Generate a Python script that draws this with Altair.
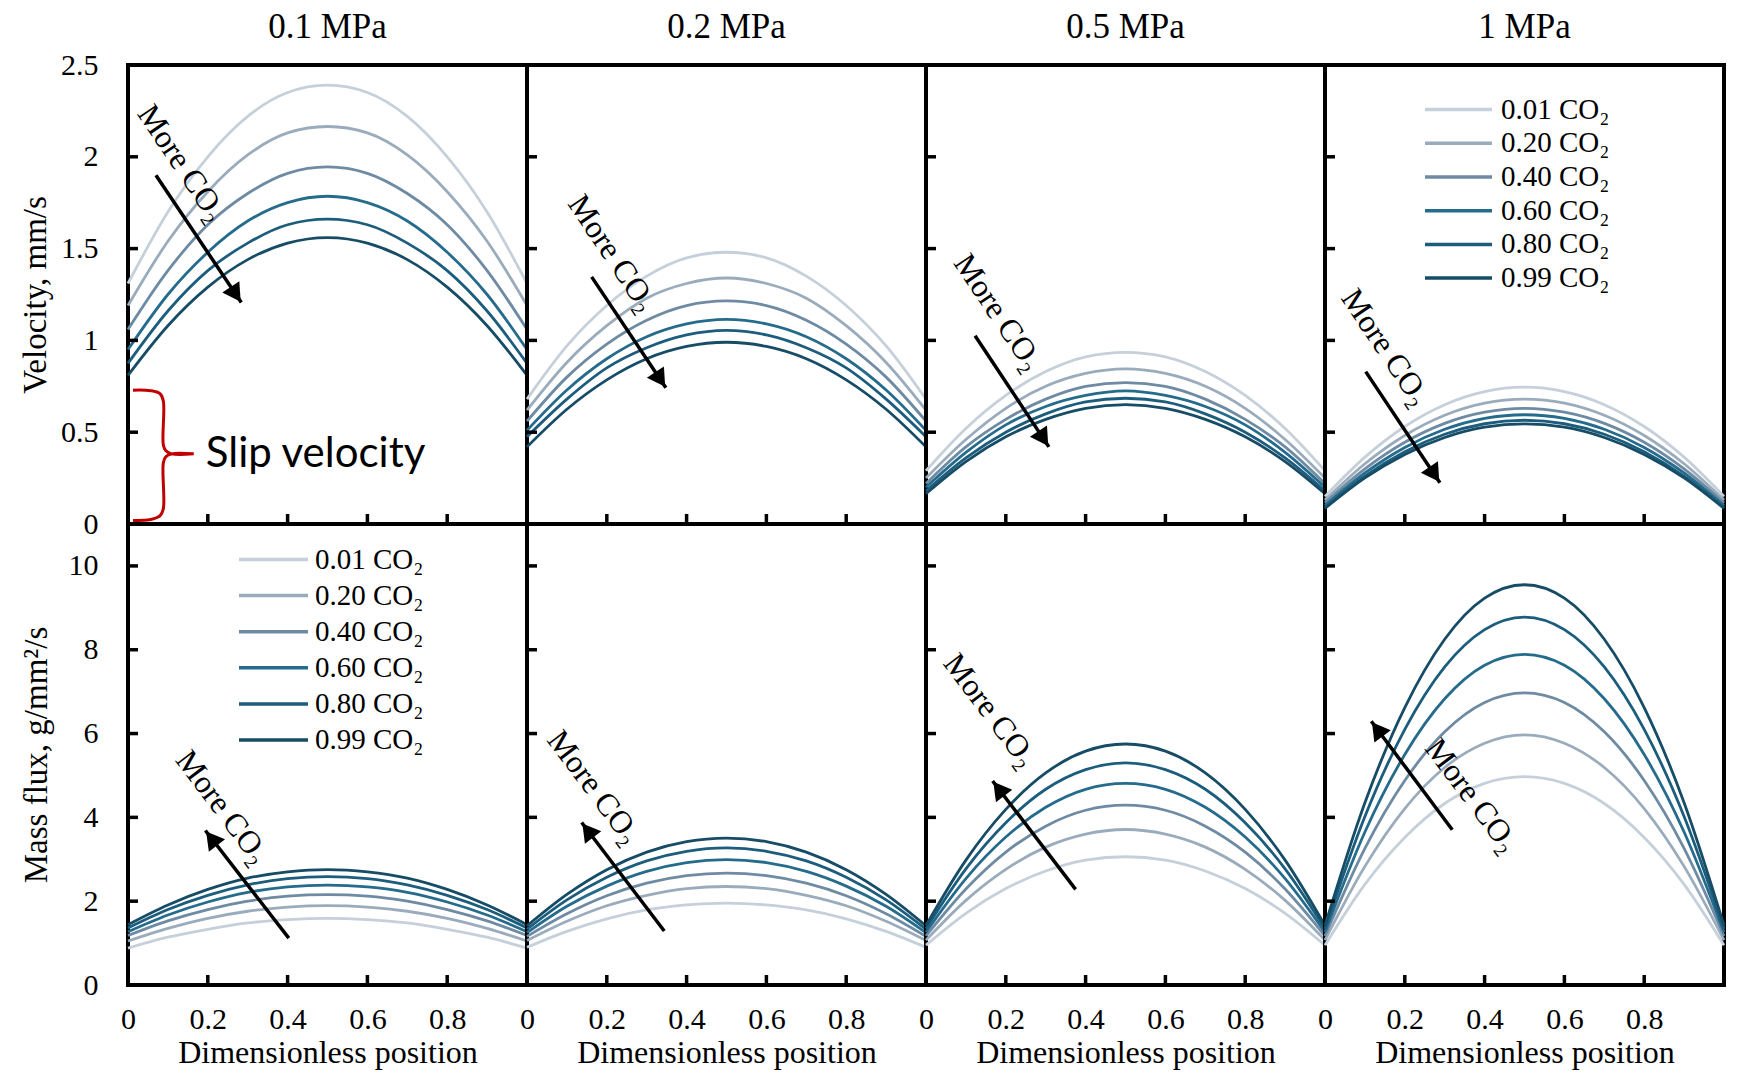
import math
import altair as alt
import pandas as pd

# ---------------- data ----------------
positions = [0.0, 0.1, 0.2, 0.3, 0.4, 0.5, 0.6, 0.7, 0.8, 0.9, 1.0]
pressures = ["0.1 MPa", "0.2 MPa", "0.5 MPa", "1 MPa"]
series = ["0.01 CO₂", "0.20 CO₂", "0.40 CO₂", "0.60 CO₂", "0.80 CO₂", "0.99 CO₂"]
colors = ["#c6d0da", "#9aacbc", "#6e8ba3", "#256b8c", "#1c5d7d", "#164c66"]

# velocity, mm/s
vel_01 = [
    [1.31, 1.70, 2.00, 2.22, 2.35, 2.39, 2.35, 2.22, 2.00, 1.70, 1.31],
    [1.19, 1.54, 1.81, 2.01, 2.13, 2.165, 2.13, 2.01, 1.81, 1.54, 1.19],
    [1.06, 1.38, 1.63, 1.80, 1.91, 1.945, 1.91, 1.80, 1.63, 1.38, 1.06],
    [0.95, 1.25, 1.48, 1.65, 1.75, 1.785, 1.75, 1.65, 1.48, 1.25, 0.95],
    [0.875, 1.16, 1.38, 1.53, 1.63, 1.66, 1.63, 1.53, 1.38, 1.16, 0.875],
    [0.81, 1.08, 1.29, 1.44, 1.53, 1.56, 1.53, 1.44, 1.29, 1.08, 0.81],
]
vel_02 = [
    [0.68, 0.97, 1.19, 1.35, 1.45, 1.48, 1.45, 1.35, 1.19, 0.97, 0.68],
    [0.62, 0.88, 1.08, 1.23, 1.31, 1.34, 1.31, 1.23, 1.08, 0.88, 0.62],
    [0.56, 0.80, 0.98, 1.11, 1.19, 1.215, 1.19, 1.11, 0.98, 0.80, 0.56],
    [0.51, 0.73, 0.90, 1.02, 1.09, 1.115, 1.09, 1.02, 0.90, 0.73, 0.51],
    [0.475, 0.68, 0.85, 0.96, 1.03, 1.055, 1.03, 0.96, 0.85, 0.68, 0.475],
    [0.42, 0.625, 0.785, 0.90, 0.967, 0.99, 0.967, 0.90, 0.785, 0.625, 0.42],
]
vel_05 = [
    [0.29, 0.52, 0.70, 0.83, 0.91, 0.935, 0.91, 0.83, 0.70, 0.52, 0.29],
    [0.25, 0.46, 0.63, 0.75, 0.82, 0.845, 0.82, 0.75, 0.63, 0.46, 0.25],
    [0.22, 0.42, 0.57, 0.68, 0.75, 0.77, 0.75, 0.68, 0.57, 0.42, 0.22],
    [0.20, 0.39, 0.54, 0.64, 0.70, 0.725, 0.70, 0.64, 0.54, 0.39, 0.20],
    [0.18, 0.36, 0.50, 0.60, 0.665, 0.685, 0.665, 0.60, 0.50, 0.36, 0.18],
    [0.165, 0.34, 0.475, 0.57, 0.63, 0.65, 0.63, 0.57, 0.475, 0.34, 0.165],
]
vel_1 = [
    [0.15, 0.364, 0.531, 0.65, 0.721, 0.745, 0.721, 0.65, 0.531, 0.364, 0.15],
    [0.13, 0.328, 0.482, 0.592, 0.658, 0.68, 0.658, 0.592, 0.482, 0.328, 0.13],
    [0.115, 0.30, 0.445, 0.548, 0.609, 0.63, 0.609, 0.548, 0.445, 0.30, 0.115],
    [0.10, 0.278, 0.417, 0.516, 0.575, 0.595, 0.575, 0.516, 0.417, 0.278, 0.10],
    [0.09, 0.261, 0.394, 0.489, 0.546, 0.565, 0.546, 0.489, 0.394, 0.261, 0.09],
    [0.085, 0.251, 0.379, 0.471, 0.527, 0.545, 0.527, 0.471, 0.379, 0.251, 0.085],
]

# mass flux, g/mm2/s
flux_01 = [
    [0.88, 1.14, 1.33, 1.48, 1.56, 1.59, 1.56, 1.48, 1.33, 1.14, 0.88],
    [1.05, 1.35, 1.59, 1.76, 1.86, 1.895, 1.86, 1.76, 1.59, 1.35, 1.05],
    [1.18, 1.53, 1.80, 2.00, 2.12, 2.155, 2.12, 2.00, 1.80, 1.53, 1.18],
    [1.27, 1.67, 1.98, 2.21, 2.34, 2.385, 2.34, 2.21, 1.98, 1.67, 1.27],
    [1.36, 1.80, 2.14, 2.39, 2.54, 2.585, 2.54, 2.39, 2.14, 1.80, 1.36],
    [1.44, 1.91, 2.28, 2.55, 2.70, 2.755, 2.70, 2.55, 2.28, 1.91, 1.44],
]
flux_02 = [
    [0.90, 1.28, 1.58, 1.79, 1.91, 1.955, 1.91, 1.79, 1.58, 1.28, 0.90],
    [1.06, 1.52, 1.89, 2.14, 2.30, 2.35, 2.30, 2.14, 1.89, 1.52, 1.06],
    [1.16, 1.70, 2.13, 2.43, 2.61, 2.67, 2.61, 2.43, 2.13, 1.70, 1.16],
    [1.25, 1.88, 2.36, 2.71, 2.92, 2.99, 2.92, 2.71, 2.36, 1.88, 1.25],
    [1.33, 2.03, 2.57, 2.96, 3.19, 3.27, 3.19, 2.96, 2.57, 2.03, 1.33],
    [1.41, 2.16, 2.75, 3.17, 3.42, 3.505, 3.42, 3.17, 2.75, 2.16, 1.41],
]
flux_05 = [
    [0.95, 1.71, 2.30, 2.72, 2.98, 3.06, 2.98, 2.72, 2.30, 1.71, 0.95],
    [1.07, 2.02, 2.76, 3.29, 3.60, 3.71, 3.60, 3.29, 2.76, 2.02, 1.07],
    [1.17, 2.29, 3.17, 3.79, 4.17, 4.29, 4.17, 3.79, 3.17, 2.29, 1.17],
    [1.26, 2.54, 3.53, 4.24, 4.67, 4.81, 4.67, 4.24, 3.53, 2.54, 1.26],
    [1.34, 2.77, 3.87, 4.67, 5.14, 5.30, 5.14, 4.67, 3.87, 2.77, 1.34],
    [1.42, 2.98, 4.19, 5.06, 5.58, 5.75, 5.58, 5.06, 4.19, 2.98, 1.42],
]
flux_1 = [
    [0.95, 2.40, 3.52, 4.33, 4.81, 4.97, 4.81, 4.33, 3.52, 2.40, 0.95],
    [1.07, 2.83, 4.21, 5.19, 5.77, 5.97, 5.77, 5.19, 4.21, 2.83, 1.07],
    [1.17, 3.26, 4.88, 6.04, 6.74, 6.97, 6.74, 6.04, 4.88, 3.26, 1.17],
    [1.26, 3.65, 5.50, 6.83, 7.63, 7.89, 7.63, 6.83, 5.50, 3.65, 1.26],
    [1.34, 4.02, 6.10, 7.59, 8.48, 8.78, 8.48, 7.59, 6.10, 4.02, 1.34],
    [1.42, 4.35, 6.62, 8.25, 9.23, 9.55, 9.23, 8.25, 6.62, 4.35, 1.42],
]

# axes
vel_domain = [0, 2.5]
flux_domain = [0, 11]
vel_labels = [0, 0.5, 1, 1.5, 2, 2.5]
flux_labels = [0, 2, 4, 6, 8, 10]
vel_ticks = [0.5, 1, 1.5, 2]
flux_ticks = [2, 4, 6, 8, 10]
x_labels = [0, 0.2, 0.4, 0.6, 0.8]
x_ticks = [0.2, 0.4, 0.6, 0.8]

# "More CO2" annotations (data units of each panel)
top_tail_x = [0.070, 0.162, 0.123, 0.102]
top_tail_y = [1.90, 1.346, 1.025, 0.830]
top_head_x = [0.284, 0.348, 0.308, 0.288]
top_head_y = [1.206, 0.742, 0.420, 0.225]
top_text_x = [0.135, 0.214, 0.181, 0.152]
top_text_y = [1.965, 1.474, 1.152, 0.961]
bot_tail_x = [0.403, 0.344, 0.375, 0.319]
bot_tail_y = [1.117, 1.288, 2.281, 3.705]
bot_head_x = [0.194, 0.137, 0.167, 0.116]
bot_head_y = [3.686, 3.876, 4.869, 6.293]
bot_text_x = [0.237, 0.168, 0.161, 0.368]
bot_text_y = [4.24, 4.72, 6.55, 4.52]
more_text = "More CO₂"

# slip velocity brace (top-left panel)
brace_x = [0.0125, 0.057, 0.080, 0.0885, 0.0885, 0.0948, 0.1097, 0.1646,
           0.1097, 0.0948, 0.0885, 0.0885, 0.080, 0.057, 0.0125]
brace_y = [0.729, 0.726, 0.710, 0.671, 0.431, 0.399, 0.382, 0.382,
           0.382, 0.366, 0.333, 0.082, 0.044, 0.025, 0.019]
slip_x = [0.195]
slip_y = [0.382]
slip_text = ["Slip velocity"]

# ---------------- styling ----------------
W = 399
H_TOP = 459
H_BOT = 461
SERIF = "Liberation Serif"
SANS = "Lato"
TICK_LEN = 10
TITLE_SIZE = 35
TITLE_OFFSET = 20
LABEL_SIZE = 30

color_enc = alt.Color("series:N", scale=alt.Scale(domain=series, range=colors), legend=None)


def xq(field, axis):
    return alt.X(f"{field}:Q", scale=alt.Scale(domain=[0, 1], nice=False, zero=False), axis=axis)


def yq(field, dom, axis=None):
    return alt.Y(f"{field}:Q", scale=alt.Scale(domain=dom, nice=False, zero=False), axis=axis)


def curves_df(values):
    rows = []
    for s, ys in zip(series, values):
        for x, y in zip(positions, ys):
            rows.append({"pos": x, "val": y, "series": s})
    return pd.DataFrame(rows)


def arrow_layers(tx, ty, hx, hy, lx, ly, dom, h, text_angle, xaxis):
    dx = (hx - tx) * W
    dy = -(hy - ty) / (dom[1] - dom[0]) * h
    ang = math.degrees(math.atan2(dy, dx)) % 360
    r = 10
    off_x = -r * math.cos(math.radians(ang))
    off_y = -r * math.sin(math.radians(ang))
    adf = pd.DataFrame({"x1": [tx], "y1": [ty], "x2": [hx], "y2": [hy]})
    shaft = alt.Chart(adf).mark_rule(color="black", strokeWidth=3.5).encode(
        x=xq("x1", xaxis), x2="x2:Q", y=yq("y1", dom), y2="y2:Q")
    head = alt.Chart(adf).mark_point(
        shape="triangle-right", filled=True, size=420, color="black", opacity=1,
        angle=ang, xOffset=off_x, yOffset=off_y).encode(x=xq("x2", xaxis), y=yq("y2", dom))
    tdf = pd.DataFrame({"x": [lx], "y": [ly], "t": [more_text]})
    label = alt.Chart(tdf).mark_text(
        font=SERIF, fontSize=32, angle=text_angle, align="center", baseline="middle",
        color="black").encode(x=xq("x", xaxis), y=yq("y", dom), text="t:N")
    return [shaft, head, label]


def legend_layers(y0, y1, xl0, xl1, xt):
    ldf = pd.DataFrame({"series": series})
    yenc = alt.Y("series:N", scale=alt.Scale(type="point", domain=series, range=[y0, y1], padding=0),
                 axis=None)
    rules = alt.Chart(ldf).mark_rule(strokeWidth=3.5).encode(
        y=yenc, x=alt.value(xl0), x2=alt.value(xl1), color=color_enc)
    texts = alt.Chart(ldf).mark_text(font=SERIF, fontSize=29, align="left", baseline="middle",
                                     color="black").encode(y=yenc, x=alt.value(xt), text="series:N")
    return [rules, texts]


def panel(col, values, dom, ylabels, yticks, ytitle, h, bottom, title_pad):
    yaxis = None
    if col == 0:
        yaxis = alt.Axis(values=ylabels, format="~r", title=ytitle, labelPadding=30,
                         titlePadding=title_pad, tickSize=0, ticks=False, domain=False, grid=False,
                         labelFontSize=LABEL_SIZE, titleFontSize=33)
    xaxis = None
    if bottom:
        xaxis = alt.Axis(values=x_labels, format="~r", title="Dimensionless position",
                         labelPadding=19, titlePadding=3, tickSize=0, ticks=False, domain=False,
                         grid=False, labelFlush=False, labelOverlap=False,
                         labelFontSize=LABEL_SIZE, titleFontSize=32)
    lines = alt.Chart(curves_df(values)).mark_line(strokeWidth=2.8, interpolate="monotone").encode(
        x=xq("pos", xaxis), y=yq("val", dom, yaxis), color=color_enc)

    ytk = alt.Chart(pd.DataFrame({"t": yticks})).mark_rule(color="black", strokeWidth=3.5).encode(
        y=yq("t", dom), x=alt.value(0), x2=alt.value(TICK_LEN))
    xtk = alt.Chart(pd.DataFrame({"t": x_ticks})).mark_rule(color="black", strokeWidth=3.5).encode(
        x=xq("t", xaxis), y=alt.value(h), y2=alt.value(h - TICK_LEN))
    layers = [lines, ytk, xtk]

    if not bottom:
        layers += arrow_layers(top_tail_x[col], top_tail_y[col], top_head_x[col], top_head_y[col],
                               top_text_x[col], top_text_y[col], dom, h, 56, xaxis)
    else:
        layers += arrow_layers(bot_tail_x[col], bot_tail_y[col], bot_head_x[col], bot_head_y[col],
                               bot_text_x[col], bot_text_y[col], dom, h, 53, xaxis)

    if (not bottom) and col == 3:
        layers += legend_layers(44.6, 213.1, 100, 167, 176)
    if bottom and col == 0:
        layers += legend_layers(35.5, 216, 111, 180, 187)

    if (not bottom) and col == 0:
        bdf = pd.DataFrame({"x": brace_x, "y": brace_y, "i": list(range(len(brace_x)))})
        brace = alt.Chart(bdf).mark_line(color="#c00000", strokeWidth=3,
                                         interpolate="catmull-rom").encode(
            x=xq("x", xaxis), y=yq("y", dom), order="i:Q")
        sdf = pd.DataFrame({"x": slip_x, "y": slip_y, "t": slip_text})
        slip = alt.Chart(sdf).mark_text(font=SANS, fontSize=42, align="left", baseline="middle",
                                        color="black").encode(x=xq("x", xaxis), y=yq("y", dom),
                                                              text="t:N")
        layers += [brace, slip]

    ch = alt.layer(*layers).resolve_scale(y="independent").properties(width=W, height=h)
    if not bottom:
        ch = ch.properties(title=alt.TitleParams(
            pressures[col], font=SERIF, fontSize=TITLE_SIZE, fontWeight="normal", color="black",
            frame="group", anchor="middle",
            offset=TITLE_OFFSET - LABEL_SIZE / 2 if col == 0 else TITLE_OFFSET))
    return ch


top_vals = [vel_01, vel_02, vel_05, vel_1]
bot_vals = [flux_01, flux_02, flux_05, flux_1]

panels = [panel(i, top_vals[i], vel_domain, vel_labels, vel_ticks,
                "Velocity, mm/s", H_TOP, False, 8) for i in range(4)]
panels += [panel(i, bot_vals[i], flux_domain, flux_labels, flux_ticks,
                 "Mass flux, g/mm²/s", H_BOT, True, 15) for i in range(4)]

chart = alt.concat(*panels, columns=4, spacing=0, bounds="flush").properties(
    background="white",
    padding={"left": 9, "top": 0, "right": 0, "bottom": 0},
).configure_view(stroke="black", strokeWidth=4).configure_axis(
    labelFont=SERIF, titleFont=SERIF, labelColor="black", titleColor="black",
    titleFontWeight="normal",
)

chart.save("out.html", embed_options={"renderer": "svg", "actions": False})
